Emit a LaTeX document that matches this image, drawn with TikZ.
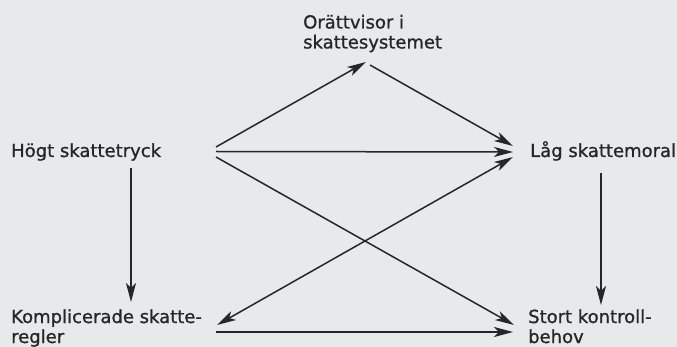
\documentclass[tikz,border=0pt]{standalone}
\usepackage{fontspec}
\setmainfont{DejaVu Sans}[BoldFont={DejaVu Sans},BoldFeatures={FakeBold=1}]
\usetikzlibrary{arrows.meta}
\definecolor{paper}{RGB}{231,234,234}
\definecolor{ink}{RGB}{38,38,40}
\tikzset{
  lbl/.style={anchor=base west, inner sep=0pt, align=left, text=ink,
    font=\fontsize{18}{20}\selectfont\bfseries},
  conn/.style={draw=ink, line width=1.5pt, -{Stealth[length=19pt,width=10pt,inset=5pt]}},
  biconn/.style={draw=ink, line width=1.5pt,
    {Stealth[length=19pt,width=10pt,inset=5pt]}-{Stealth[length=19pt,width=10pt,inset=5pt]}}
}
\begin{document}
\begin{tikzpicture}[x=1pt,y=-1pt]
  \fill[paper] (0,0) rectangle (677,347);
  \useasboundingbox (0,0) rectangle (677,347);
  % labels (base = baseline of last line)
  \node[lbl] (ort) at (303,48.5) {Orättvisor i\\skattesystemet};
  \node[lbl] (hogt) at (11,157) {Högt skattetryck};
  \node[lbl] (lag) at (530,157) {Låg skattemoral};
  \node[lbl] (kompl) at (11,343) {Komplicerade skatte-\\regler};
  \node[lbl] (stort) at (528,343) {Stort kontroll-\\behov};
  % connector ends
  \coordinate (hogt-ne) at (216,147);
  \coordinate (hogt-e) at (216,151.5);
  \coordinate (hogt-se) at (216,157);
  \coordinate (hogt-s) at (131,168);
  \coordinate (ort-sw) at (366,62);
  \coordinate (ort-se) at (370,65);
  \coordinate (lag-nw) at (513,146);
  \coordinate (lag-w) at (513,152);
  \coordinate (lag-sw) at (513,157);
  \coordinate (lag-s) at (601,173);
  \coordinate (kompl-n) at (131,302);
  \coordinate (kompl-ne) at (217,325);
  \coordinate (kompl-e) at (216,332);
  \coordinate (stort-n) at (601,305);
  \coordinate (stort-nw) at (514,325);
  \coordinate (stort-w) at (513,332);
  % connectors
  \draw[conn] (hogt-ne) -- (ort-sw);
  \draw[conn] (ort-se) -- (lag-nw);
  \draw[conn] (hogt-e) -- (lag-w);
  \draw[conn] (hogt-se) -- (stort-nw);
  \draw[biconn] (kompl-ne) -- (lag-sw);
  \draw[conn] (hogt-s) -- (kompl-n);
  \draw[conn] (lag-s) -- (stort-n);
  \draw[conn] (kompl-e) -- (stort-w);
\end{tikzpicture}
\end{document}
